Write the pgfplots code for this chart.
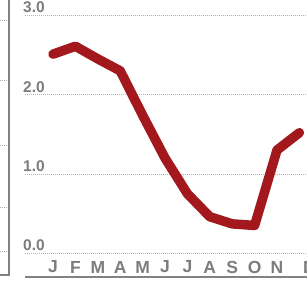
\documentclass[border=0pt]{standalone}
\usepackage{fontspec}
\setmainfont{Liberation Sans}
\usepackage{pgfplots}
\pgfplotsset{compat=1.18}
\definecolor{lred}{RGB}{163,24,28}
\definecolor{tgrey}{RGB}{125,125,125}
\definecolor{agrey}{RGB}{130,130,130}
\begin{document}
\begin{tikzpicture}
\useasboundingbox (0,0) rectangle (307pt,281pt);
\clip (0,0) rectangle (307pt,281pt);
\fill[white] (0,0) rectangle (307pt,281pt);
% neighbouring panel border
\draw[agrey, line width=2pt] (9pt,281pt) -- (9pt,6pt) -- (0pt,6pt);
\foreach \yy in {20,80,145,207,251} {
  \draw[gray!60, line width=0.8pt, dash pattern=on 1pt off 1pt] (0pt,281pt-\yy pt) -- (7pt,281pt-\yy pt);
}
\begin{axis}[
  at={(25pt,4pt)}, anchor=south west,
  x=22.4pt, y=79.3pt,
  xmin=-1.25, xmax=11.5,
  ymin=-0.30, ymax=3.3,
  clip=false,
  axis x line*=bottom, axis y line*=left,
  x axis line style={draw=agrey, line width=2pt, -},
  y axis line style={draw=none},
  major tick length=0pt,
  xtick={0,1,2,3,4,5,6,7,8,9,10,11.45},
  xticklabels={J,F,M,A,M,J,J,A,S,O,N,D},
  xticklabel style={anchor=center, yshift=10pt, font=\fontsize{17.5}{17.5}\selectfont\bfseries, text=tgrey},
  ytick={0,1,2,3},
  yticklabel style={anchor=south west, inner sep=0pt, xshift=-2pt, yshift=2pt, font=\fontsize{15.5}{15.5}\selectfont\bfseries, text=tgrey},
  /pgf/number format/assume math mode=true,
  yticklabel={\pgfmathprintnumber[fixed, fixed zerofill, precision=1]{\tick}},
  ymajorgrids,
  major grid style={gray!60, line width=0.8pt, dash pattern=on 1pt off 1pt},
]
\addplot[lred, line width=9.5pt, line cap=round, line join=round] coordinates {
  (0,2.51) (1,2.61) (2,2.45) (3,2.30) (4,1.74) (5,1.20) (6,0.75) (7,0.46) (8,0.37) (9,0.35) (10,1.30) (11,1.52)
};
\end{axis}
\end{tikzpicture}
\end{document}
